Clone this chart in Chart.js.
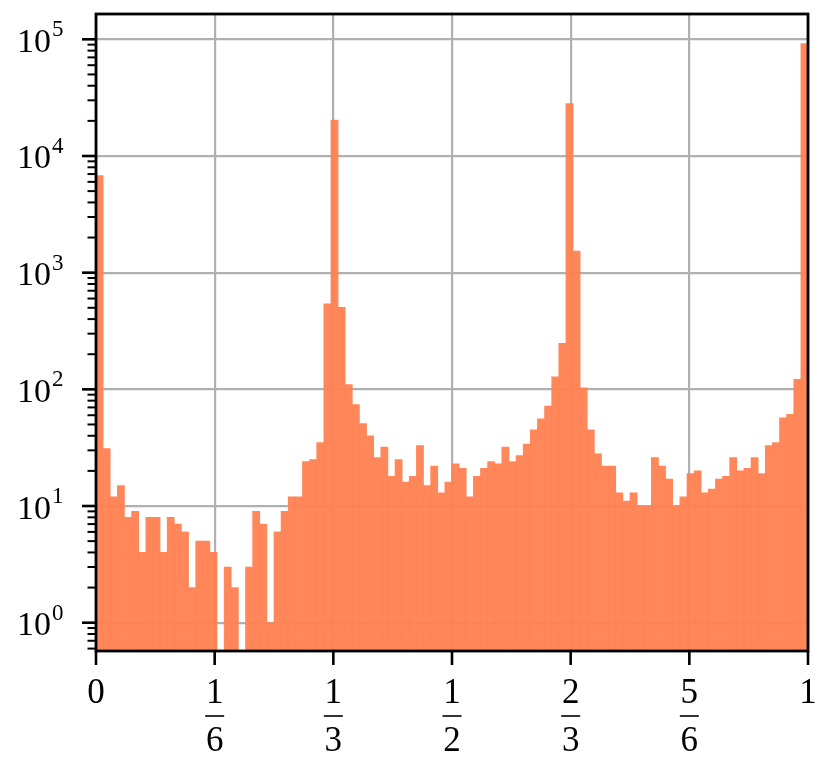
<!DOCTYPE html>
<html>
<head>
<meta charset="utf-8">
<title>Histogram (log scale)</title>
<script src="https://cdn.jsdelivr.net/npm/chart.js@4.4.1/dist/chart.umd.min.js"></script>
<style>
    html, body { margin: 0; padding: 0; background: #ffffff; }
    #histChart { display: block; }
</style>
</head>
<body>
<canvas id="histChart" width="832" height="765"></canvas>
<script>
// ============================================================================
// DATA
// ============================================================================

// 100 equal bins on [0, 1]
const binWidth = 0.01;

const counts = [
    6800, 31, 12, 15, 8, 9, 4, 8, 8, 4,
    8, 7, 6, 2, 5, 5, 4, 0, 3, 2,
    0, 3, 9, 7, 1, 6, 9, 12, 12, 24,
    25, 35, 540, 20300, 505, 110, 74, 51, 40, 26,
    32, 18, 25, 16, 18, 33, 15, 22, 13, 16,
    23, 21, 12, 18, 21, 24, 23, 32, 24, 27,
    34, 45, 56, 72, 128, 248, 28200, 1530, 103, 45,
    28, 22, 22, 13, 11, 13, 10, 10, 26, 22,
    17, 10, 12, 19, 20, 13, 14, 17, 18, 26,
    20, 21, 26, 19, 33, 35, 57, 61, 122, 92000
];

// x ticks as fractions [value, numerator, denominator]
const xTickValues = [0, 1 / 6, 1 / 3, 1 / 2, 2 / 3, 5 / 6, 1];
const xTickNum = ['0', '1', '1', '1', '2', '5', '1'];
const xTickDen = [null, '6', '3', '2', '3', '6', null];

// y ticks: decades 10^0 .. 10^5
const yTickExponents = [0, 1, 2, 3, 4, 5];

const yMin = 0.572;
const yMax = 164800;

// ============================================================================
// STYLE
// ============================================================================

const BAR_COLOR = 'rgba(255, 127, 80, 0.94)';
const GRID_COLOR = '#b0b0b0';
const FONT_FAMILY = "'Liberation Serif', 'DejaVu Serif', serif";

// ============================================================================
// AXES PLUGIN - frame, tick marks, LaTeX-like labels
// ============================================================================

const axesPlugin = {
    id: 'axesPlugin',
    afterDraw(chart) {
        const ctx = chart.ctx;
        const area = chart.chartArea;
        const xs = chart.scales.x;
        const ys = chart.scales.y;

        ctx.save();
        ctx.strokeStyle = '#000000';
        ctx.fillStyle = '#000000';

        // y ticks (major + minor)
        for (let d = -1; d <= 5; d++) {
            for (let k = 1; k <= 9; k++) {
                const v = k * Math.pow(10, d);
                if (v < yMin || v > yMax) continue;
                const py = ys.getPixelForValue(v);
                const major = k === 1;
                ctx.lineWidth = major ? 2.6 : 2;
                ctx.beginPath();
                ctx.moveTo(area.left, py);
                ctx.lineTo(area.left - (major ? 14 : 8.5), py);
                ctx.stroke();
            }
        }

        // x ticks
        ctx.lineWidth = 2.6;
        xTickValues.forEach(v => {
            const px = xs.getPixelForValue(v);
            ctx.beginPath();
            ctx.moveTo(px, area.bottom);
            ctx.lineTo(px, area.bottom + 14);
            ctx.stroke();
        });

        // frame
        ctx.lineWidth = 2.8;
        ctx.strokeRect(area.left, area.top, area.right - area.left, area.bottom - area.top);

        // y labels: 10^n
        yTickExponents.forEach(n => {
            const py = ys.getPixelForValue(Math.pow(10, n));
            ctx.font = '34px ' + FONT_FAMILY;
            ctx.textAlign = 'right';
            ctx.textBaseline = 'alphabetic';
            ctx.fillText('10', area.left - 45, py + 12.5);
            ctx.font = '23px ' + FONT_FAMILY;
            ctx.textAlign = 'left';
            ctx.fillText(String(n), area.left - 44, py - 3);
        });

        // x labels: fractions
        ctx.textAlign = 'center';
        ctx.textBaseline = 'alphabetic';
        ctx.font = '35px ' + FONT_FAMILY;
        xTickValues.forEach((v, i) => {
            const px = xs.getPixelForValue(v);
            ctx.fillText(xTickNum[i], px, area.bottom + 52);
            if (xTickDen[i]) {
                ctx.lineWidth = 1.6;
                ctx.beginPath();
                ctx.moveTo(px - 9.5, area.bottom + 65);
                ctx.lineTo(px + 9.5, area.bottom + 65);
                ctx.stroke();
                ctx.fillText(xTickDen[i], px, area.bottom + 100);
            }
        });

        ctx.restore();
    }
};

// ============================================================================
// CHART
// ============================================================================

function renderHistogram() {
    const ctx = document.getElementById('histChart').getContext('2d');

    const points = counts.map((c, i) => ({ x: (i + 0.5) * binWidth, y: c }));

    new Chart(ctx, {
        type: 'bar',
        data: {
            datasets: [{
                data: points,
                backgroundColor: BAR_COLOR,
                borderWidth: 0,
                barPercentage: 1.0,
                categoryPercentage: 1.0
            }]
        },
        options: {
            responsive: false,
            animation: false,
            layout: {
                padding: { left: 96, right: 24, top: 14, bottom: 114 }
            },
            plugins: {
                legend: { display: false },
                tooltip: { enabled: false }
            },
            scales: {
                x: {
                    type: 'linear',
                    min: 0,
                    max: 1,
                    offset: false,
                    afterBuildTicks: scale => {
                        scale.ticks = xTickValues.map(v => ({ value: v }));
                    },
                    ticks: { display: false },
                    grid: { color: GRID_COLOR, lineWidth: 2.2, drawTicks: false, offset: false },
                    border: { display: false }
                },
                y: {
                    type: 'logarithmic',
                    min: yMin,
                    max: yMax,
                    afterBuildTicks: scale => {
                        scale.ticks = yTickExponents.map(n => ({ value: Math.pow(10, n) }));
                    },
                    ticks: { display: false },
                    grid: { color: GRID_COLOR, lineWidth: 2.2, drawTicks: false },
                    border: { display: false }
                }
            }
        },
        plugins: [axesPlugin]
    });
}

renderHistogram();
</script>
</body>
</html>
